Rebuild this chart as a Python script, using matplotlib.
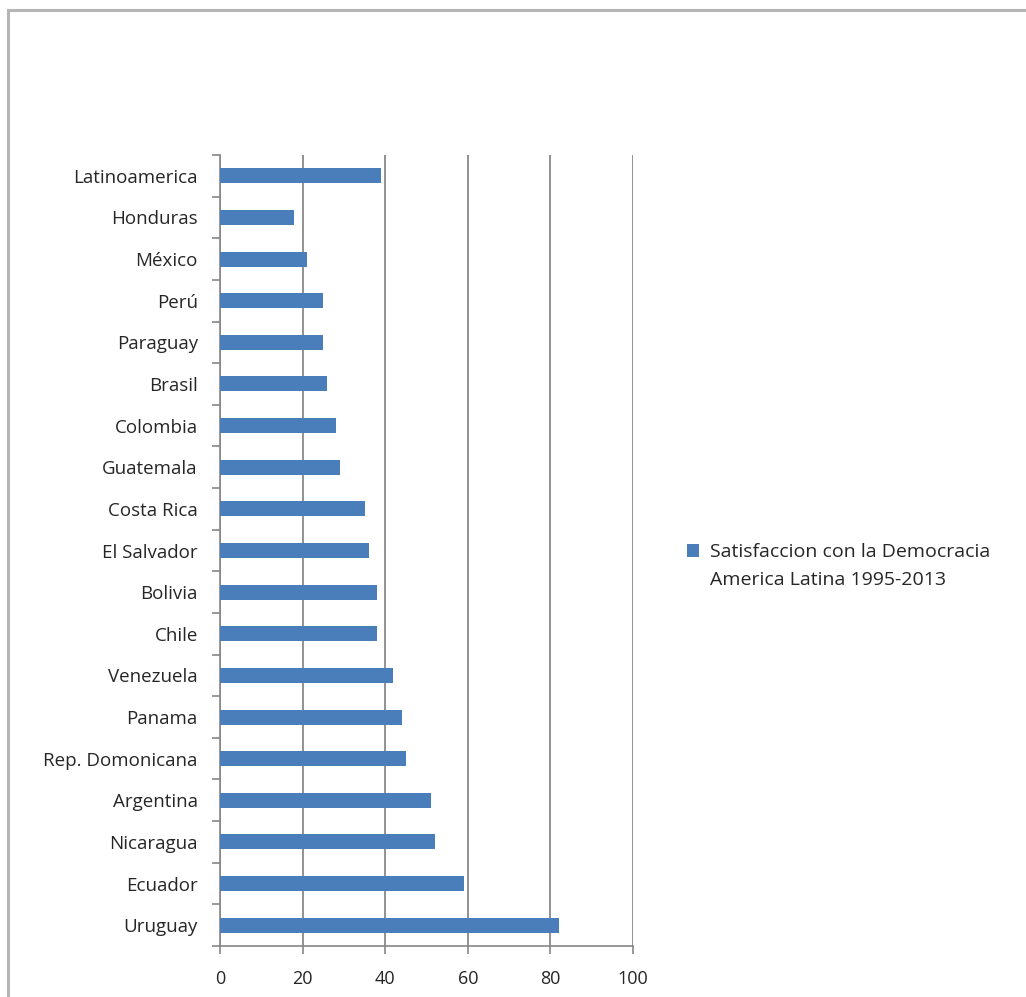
import matplotlib

matplotlib.use("Agg")
import matplotlib.pyplot as plt
from matplotlib.patches import Rectangle

# Values (bottom to top in the chart)
countries = [
    "Uruguay", "Ecuador", "Nicaragua", "Argentina", "Rep. Domonicana",
    "Panama", "Venezuela", "Chile", "Bolivia", "El Salvador", "Costa Rica",
    "Guatemala", "Colombia", "Brasil", "Paraguay", "Perú", "México",
    "Honduras", "Latinoamerica",
]
satisfaccion = [82, 59, 52, 51, 45, 44, 42, 38, 38, 36, 35, 29, 28, 26, 25, 25, 21, 18, 39]
x_ticks = [0, 20, 40, 60, 80, 100]
series_label = "Satisfaccion con la Democracia\nAmerica Latina 1995-2013"

plt.rcParams["font.family"] = ["Open Sans", "DejaVu Sans"]

W, H = 1026, 997
fig = plt.figure(figsize=(W / 100, H / 100), dpi=100)
fig.patch.set_facecolor("white")

# outer frame of the chart area
fig.patches.append(Rectangle((8 / W, -0.01), 1.02, (H - 10) / H + 0.01,
                             transform=fig.transFigure, fill=False,
                             edgecolor="#b5b5b5", linewidth=2.2))

ax = fig.add_axes([220 / W, (H - 946) / H, (633 - 220) / W, (946 - 155) / H])

y = range(len(countries))
ax.barh(list(y), satisfaccion, height=0.36, color="#4a7ebb", label=series_label, zorder=3)

ax.set_xlim(0, 100)
ax.set_ylim(-0.5, len(countries) - 0.5)
ax.set_xticks(x_ticks)
ax.set_xticklabels([str(v) for v in x_ticks], fontsize=13, color="#262626")
ax.set_yticks(list(y))
ax.set_yticklabels(countries, fontsize=13.5, color="#262626")
ax.tick_params(axis="y", length=0, pad=16)
ax.tick_params(axis="x", length=6, width=1.2, color="#868686", pad=11)

# category separator ticks on the y axis
ax.set_yticks([i - 0.5 for i in range(len(countries) + 1)], minor=True)
ax.tick_params(axis="y", which="minor", length=6, width=1.2, color="#868686")

ax.grid(axis="x", color="#7f7f7f", linewidth=1.2, zorder=0)
for side in ("top", "right"):
    ax.spines[side].set_visible(False)
for side in ("left", "bottom"):
    ax.spines[side].set_color("#868686")
    ax.spines[side].set_linewidth(1.2)

leg = ax.legend(loc="center left", bbox_to_anchor=(669 / W, (H - 566) / H),
                bbox_transform=fig.transFigure, frameon=False, fontsize=14,
                handlelength=0.65, handleheight=0.65, handletextpad=0.55,
                labelcolor="#262626")
for t in leg.get_texts():
    t.set_linespacing(1.65)
# Excel puts the legend key next to the first line of the label
key = leg.legend_handles[0]
key.set_y(key.get_y() + 11)

fig.savefig("out.png", dpi=100)
